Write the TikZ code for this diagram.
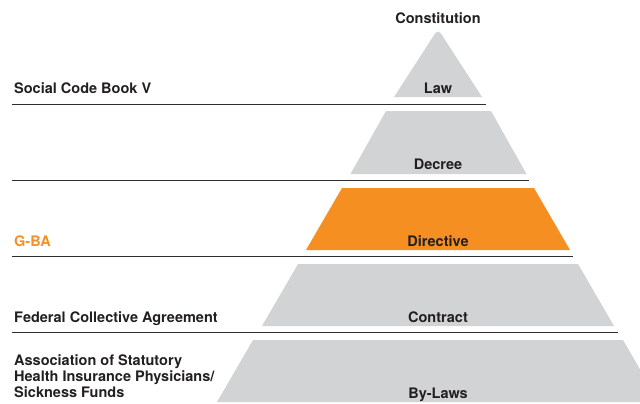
\documentclass[tikz,border=0pt]{standalone}
\usepackage{fontspec}
\setmainfont{TeX Gyre Heros}
\usepackage{tikz}
\usetikzlibrary{positioning}
\definecolor{tiergray}{RGB}{209,211,212}
\definecolor{tierorange}{RGB}{245,143,34}
\definecolor{textgray}{RGB}{35,31,32}
\definecolor{rulegray}{RGB}{45,45,45}

\begin{document}
\begin{tikzpicture}[x=1pt,y=-1pt]
\tikzstyle{every node}=[inner sep=0pt,font=\fontsize{14.5}{16}\selectfont\bfseries,text=textgray]
\tikzstyle{tier}=[fill=tiergray]
\tikzstyle{hilite}=[fill=tierorange]
\tikzstyle{rule}=[draw=rulegray,line width=1.3pt]
\tikzstyle{mid}=[anchor=base]
\tikzstyle{side}=[anchor=base west,align=left]
\useasboundingbox (0,0) rectangle (640,404);
\clip (0,0) rectangle (640,404);
\fill[tier] (394,97) [rounded corners=5pt] -- (438,29) [sharp corners] -- (482,97) -- cycle;
\fill[tier] (386,111) -- (491,111) -- (526.5,174) -- (350.5,174) -- cycle;
\fill[hilite] (342,188) -- (534,188) -- (570,250) -- (306,250) -- cycle;
\fill[tier] (298,264) -- (578,264) -- (614,326) -- (262,326) -- cycle;
\fill[tier] (253,340) -- (623,340) -- (659,402) -- (217,402) -- cycle;
\draw[rule] (12,104.5) -- (486,104.5);
\draw[rule] (12,180.5) -- (529,180.5);
\draw[rule] (12,256.5) -- (573,256.5);
\draw[rule] (12,332.5) -- (618,332.5);
\node[mid] (constitution) at (438,23.3) {Constitution};
\node[mid] (law) at (438,93) {Law};
\node[mid] (decree) at (438,169) {Decree};
\node[mid] (directive) at (438,246) {Directive};
\node[mid] (contract) at (438,322.5) {Contract};
\node[mid] (bylaws) at (438,398) {By-Laws};
\node[side] (sgb) at (14,93) {Social Code Book V};
\node[side,text=tierorange] (gba) at (14,246) {G-BA};
\node[side] (bmv) at (14,322.5) {Federal Collective Agreement};
\node[side] (kv) at (14,397) {Association of Statutory\\Health Insurance Physicians/\\Sickness Funds};
\end{tikzpicture}
\end{document}
